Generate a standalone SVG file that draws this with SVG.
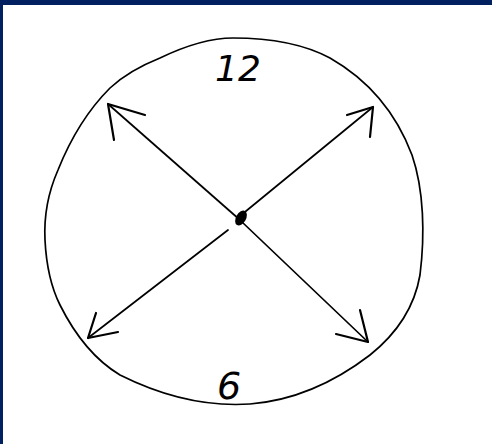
<svg xmlns="http://www.w3.org/2000/svg" width="492" height="444" viewBox="0 0 492 444">
<style>
.ink{fill:none;stroke:#000;stroke-width:1.7;stroke-linecap:round;stroke-linejoin:round}
.head{fill:none;stroke:#000;stroke-width:2.2;stroke-linecap:round}
.lbl{font-family:"DejaVu Sans",sans-serif;font-weight:300;font-style:oblique;fill:#000}
</style>
<rect x="0" y="0" width="492" height="444" fill="#fff"/>
<rect x="0" y="0" width="492" height="5" fill="#002060"/>
<rect x="0" y="0" width="3" height="444" fill="#002060"/>
<g id="dial">
<path class="ink" d="M160,58 C185,46 210,38 233,38 C265,38 300,42 330,58 C365,78 395,110 412,155 C424,190 425,235 420,275 C414,310 395,335 370,355 C340,378 300,400 250,404 C205,407 160,395 120,375 C95,360 75,335 60,305 C50,285 46,260 45,240 C44,220 47,195 58,170 C70,140 88,110 110,88 C125,74 140,66 160,58 Z"/>
</g>
<g id="label-12"><text class="lbl" x="238" y="81" font-size="36" text-anchor="middle">12</text></g>
<g id="label-6"><text class="lbl" x="229" y="399" font-size="38" text-anchor="middle">6</text></g>
<g id="center"><ellipse cx="241" cy="218" rx="5" ry="8" transform="rotate(30 241 218)" fill="#000"/></g>
<g id="connectors">
<path class="ink" d="M240,220 L108,104"/>
<path class="head" d="M108,104 L145,115 M108,104 L114,140"/>
<path class="ink" d="M240,216 L373,107"/>
<path class="head" d="M373,107 L347,115 M373,107 L370,137"/>
<path class="ink" d="M228,230 L88,338"/>
<path class="head" d="M88,338 L96,313 M88,338 L118,332"/>
<path class="ink" d="M242,222 L368,342"/>
<path class="head" d="M368,342 L336,334 M368,342 L360,310"/>
</g>
</svg>
